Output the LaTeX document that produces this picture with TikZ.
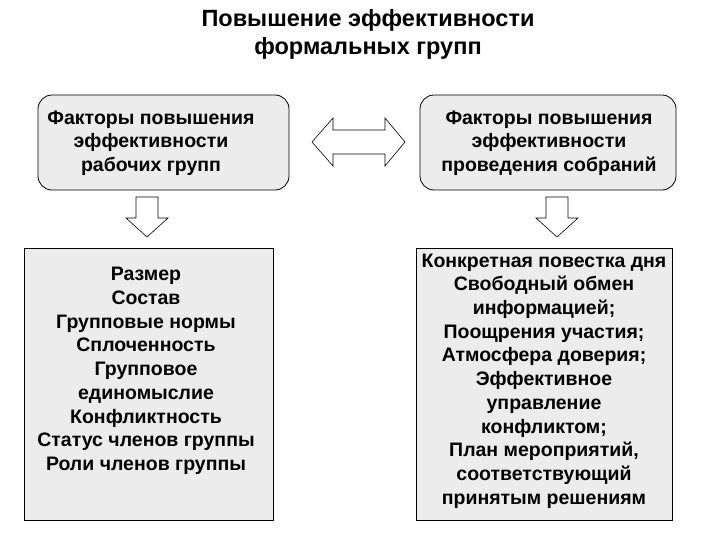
\documentclass[tikz,border=0pt]{standalone}
\usepackage{fontspec}
\setmainfont{Liberation Sans}
\usetikzlibrary{shapes.arrows}
\begin{document}
\begin{tikzpicture}[x=1pt,y=-1pt,
 box/.style={draw=black,fill=gray!15,line width=0.8pt},
 txt/.style={align=center,font=\bfseries\fontsize{19.5}{23.7}\selectfont},
 arr/.style={draw=black,fill=white,line width=0.6pt}]
\useasboundingbox (0,0) rectangle (720,540);
\node[font=\bfseries\fontsize{23.5}{28}\selectfont,align=center] (title) at (368,34) {Повышение эффективности\\формальных групп};
\draw[box,rounded corners=14pt] (38,95) rectangle (289,190);
\node[txt] (tl) at (151,143) {Факторы повышения\\эффективности\\рабочих групп};
\draw[box,rounded corners=14pt] (420,95) rectangle (676,190);
\node[txt] (tr) at (549,143) {Факторы повышения\\эффективности\\проведения собраний};
\draw[box] (24,248) rectangle (273,520);
\node[txt] (bl) at (146,371) {Размер\\Состав\\Групповые нормы\\Сплоченность\\Групповое\\единомыслие\\Конфликтность\\Статус членов группы\\Роли членов группы};
\draw[box] (416,248) rectangle (672,520);
\node[txt] (br) at (544,381) {Конкретная повестка дня\\Свободный обмен\\информацией;\\Поощрения участия;\\Атмосфера доверия;\\Эффективное\\управление\\конфликтом;\\План мероприятий,\\соответствующий\\принятым решениям};
\draw[arr] (312,142) -- (333,118) -- (333,130) -- (385,130) -- (385,118) -- (405,142) -- (385,166) -- (385,154) -- (333,154) -- (333,166) -- cycle;
\draw[arr] (136,197) -- (158,197) -- (158,218) -- (168,218) -- (147,237) -- (126,218) -- (136,218) -- cycle;
\draw[arr] (546,197) -- (568,197) -- (568,218) -- (578,218) -- (557,237) -- (536,218) -- (546,218) -- cycle;
\end{tikzpicture}
\end{document}
